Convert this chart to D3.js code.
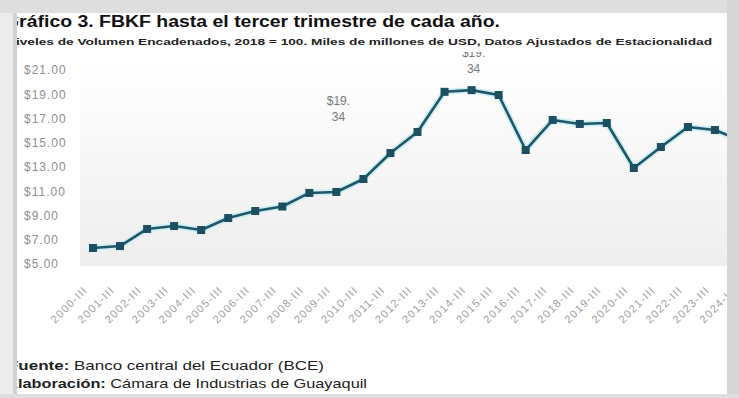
<!DOCTYPE html>
<html>
<head>
<meta charset="utf-8">
<script src="https://cdn.jsdelivr.net/npm/d3@7"></script>
<style>
  html, body { margin: 0; padding: 0; background: #e9e9e9; }
  svg { display: block; font-family: "Liberation Sans", Arial, sans-serif; }
</style>
</head>
<body>
<div id="chart"></div>
<script>
// FBKF, third quarter of each year (billions of USD, chained volumes 2018 = 100)
const periods = ['2000-III', '2001-III', '2002-III', '2003-III', '2004-III', '2005-III', '2006-III',
  '2007-III', '2008-III', '2009-III', '2010-III', '2011-III', '2012-III', '2013-III', '2014-III',
  '2015-III', '2016-III', '2017-III', '2018-III', '2019-III', '2020-III', '2021-III', '2022-III',
  '2023-III', '2024-III'];
const fbkf = [6.32, 6.48, 7.89, 8.13, 7.80, 8.79, 9.37, 9.74, 10.86, 10.94, 12.01, 14.15, 15.89,
  19.20, 19.34, 18.94, 14.40, 16.88, 16.55, 16.63, 12.92, 14.65, 16.30, 16.05, 15.14];
const yTicks = [5, 7, 9, 11, 13, 15, 17, 19, 21];
// data labels as they sit in the source (one wrapped label is drifted off its point)
const dataLabels = [
  { period: '2014-III', value: 19.34, lines: ['$19.', '34'] },
  { period: '2009-III', value: 15.4, lines: ['$19.', '34'] }
];

const W = 739, H = 398;
const panel = { left: 17, top: 13, right: 727, bottom: 394 };

const svg = d3.select('#chart').append('svg')
  .attr('width', W)
  .attr('height', H);

const defs = svg.append('defs');
const grad = defs.append('linearGradient')
  .attr('id', 'plotbg')
  .attr('x1', 0).attr('y1', 0).attr('x2', 0).attr('y2', 1);
grad.append('stop').attr('offset', '0%').attr('stop-color', '#ffffff');
grad.append('stop').attr('offset', '100%').attr('stop-color', '#eeeeee');

defs.append('clipPath').attr('id', 'panelclip')
  .append('rect')
  .attr('x', panel.left).attr('y', 52)
  .attr('width', panel.right - panel.left).attr('height', panel.bottom - 52);

// outer frame
svg.append('rect').attr('width', W).attr('height', H).attr('fill', '#e9e9e9');
svg.append('rect')
  .attr('x', panel.left).attr('y', panel.top)
  .attr('width', panel.right - panel.left).attr('height', panel.bottom - panel.top)
  .attr('fill', '#ffffff');

const x = d3.scalePoint().domain(periods).range([93, 742]);
const y = d3.scaleLinear().domain([5, 21]).range([264, 70]);

const chart = svg.append('g').attr('clip-path', 'url(#panelclip)');

// plot area shading
chart.append('rect')
  .attr('x', 80).attr('y', 58)
  .attr('width', panel.right - 80).attr('height', 208)
  .attr('fill', 'url(#plotbg)');

// y axis, labels left aligned like the source
const yAxis = chart.append('g')
  .attr('transform', 'translate(24,0)')
  .call(d3.axisLeft(y).tickValues(yTicks).tickSize(0).tickPadding(0)
    .tickFormat(d => '$' + d.toFixed(2)));
yAxis.select('.domain').remove();
yAxis.selectAll('text')
  .attr('text-anchor', 'start')
  .attr('x', 0)
  .attr('fill', '#8f8f8f')
  .style('font-size', '12px')
  .style('letter-spacing', '1px');

// x axis, rotated labels
const xAxis = chart.append('g')
  .attr('transform', 'translate(0,282)')
  .call(d3.axisBottom(x).tickSize(0).tickPadding(0));
xAxis.select('.domain').remove();
xAxis.selectAll('text')
  .attr('text-anchor', 'end')
  .attr('fill', '#a0a0a0')
  .style('font-size', '11px')
  .style('letter-spacing', '1.2px')
  .attr('dy', '0.35em')
  .attr('transform', 'translate(-8,6) rotate(-45)');

const line = d3.line()
  .x((d, i) => x(periods[i]))
  .y(d => y(d));

// soft halo under the line
chart.append('path')
  .datum(fbkf)
  .attr('fill', 'none')
  .attr('stroke', '#cdeef3')
  .attr('stroke-width', 6)
  .attr('stroke-linejoin', 'round')
  .attr('d', line);

chart.append('path')
  .datum(fbkf)
  .attr('fill', 'none')
  .attr('stroke', '#1f5668')
  .attr('stroke-width', 2.6)
  .attr('stroke-linejoin', 'round')
  .attr('d', line);

chart.selectAll('rect.marker')
  .data(fbkf)
  .enter().append('rect')
  .attr('class', 'marker')
  .attr('x', (d, i) => x(periods[i]) - 4)
  .attr('y', d => y(d) - 4)
  .attr('width', 8)
  .attr('height', 8)
  .attr('fill', '#1b4f61');

// wrapped data labels
const lbl = chart.selectAll('g.dlabel')
  .data(dataLabels)
  .enter().append('g')
  .attr('class', 'dlabel')
  .attr('transform', d => `translate(${x(d.period) + 2},${y(d.value) - 33})`);
lbl.selectAll('text')
  .data(d => d.lines)
  .enter().append('text')
  .attr('text-anchor', 'middle')
  .attr('y', (d, i) => i * 16)
  .attr('fill', '#7a7a7a')
  .style('font-size', '12px')
  .text(d => d);

// titles
svg.append('text')
  .attr('x', 4).attr('y', 27)
  .attr('font-weight', 'bold')
  .style('font-size', '16px')
  .attr('fill', '#111')
  .attr('textLength', 496)
  .attr('lengthAdjust', 'spacingAndGlyphs')
  .text('Gráfico 3. FBKF hasta el tercer trimestre de cada año.');

svg.append('text')
  .attr('x', 6).attr('y', 45)
  .attr('font-weight', 'bold')
  .style('font-size', '9px')
  .attr('fill', '#222')
  .attr('textLength', 706)
  .attr('lengthAdjust', 'spacingAndGlyphs')
  .text('Niveles de Volumen Encadenados, 2018 = 100. Miles de millones de USD, Datos Ajustados de Estacionalidad');

// source lines
const src = svg.append('text')
  .attr('x', 8).attr('y', 370)
  .style('font-size', '13px')
  .attr('fill', '#222')
  .attr('textLength', 316)
  .attr('lengthAdjust', 'spacingAndGlyphs');
src.append('tspan').attr('font-weight', 'bold').text('Fuente:');
src.append('tspan').text(' Banco central del Ecuador (BCE)');

const elab = svg.append('text')
  .attr('x', 7).attr('y', 388)
  .style('font-size', '13px')
  .attr('fill', '#222')
  .attr('textLength', 360)
  .attr('lengthAdjust', 'spacingAndGlyphs');
elab.append('tspan').attr('font-weight', 'bold').text('Elaboración:');
elab.append('tspan').text(' Cámara de Industrias de Guayaquil');

// frame borders drawn over the clipped edges
svg.append('rect').attr('x', 0).attr('y', 0).attr('width', 13).attr('height', H).attr('fill', '#ececec');
svg.append('rect').attr('x', 13).attr('y', 0).attr('width', 4).attr('height', H).attr('fill', '#d2d2d2');
svg.append('rect').attr('x', 0).attr('y', 0).attr('width', W).attr('height', panel.top).attr('fill', '#dedede');
svg.append('rect').attr('x', panel.right).attr('y', 0).attr('width', W - panel.right).attr('height', H).attr('fill', '#d6d6d6');
svg.append('rect').attr('x', 0).attr('y', panel.bottom).attr('width', W).attr('height', H - panel.bottom).attr('fill', '#dedede');
</script>
</body>
</html>
